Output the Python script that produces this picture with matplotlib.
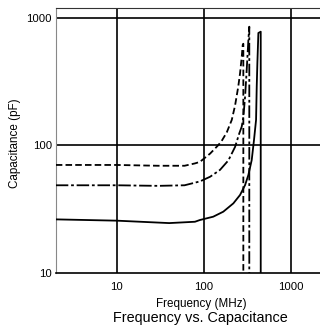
import matplotlib
matplotlib.use("Agg")
import matplotlib.pyplot as plt

plt.rcParams['font.family'] = ['Liberation Sans', 'DejaVu Sans']
plt.rcParams['lines.scale_dashes'] = False

# frequency (MHz) / capacitance (pF)
solid_f = [2, 10, 40, 79, 90, 128, 167, 218, 260, 297, 324, 354, 376, 397, 404, 411, 422, 449, 449]
solid_c = [26.2, 25.6, 24.5, 25.1, 25.9, 27.5, 30.1, 35, 40.7, 48.7, 58.4, 76.6, 110, 158, 288, 441, 759, 777, 1]

dashdot_f = [2, 10, 30, 60, 90, 118, 153, 191, 228, 255, 272, 284, 297, 310, 324, 332, 332]
dashdot_c = [48.5, 48.5, 48, 48.5, 52, 56.6, 64, 76, 97, 124, 140, 167, 240, 389, 669, 850, 1]

dashed_f = [2, 10, 30, 60, 79, 90, 118, 146, 160, 183, 209, 228, 248, 260, 272, 279, 283.6, 283.6]
dashed_c = [70, 70, 69, 69, 72, 74, 86, 100, 108, 126, 158, 205, 288, 366, 494, 611, 625, 1]

x_ticks = [10, 100, 1000]
y_ticks = [10, 100, 1000]

fig = plt.figure(figsize=(3.2, 3.29), dpi=100)
ax = fig.add_axes([0.175, 0.1711, 0.825, 0.8046])

ax.set_xscale("log")
ax.set_yscale("log")
ax.set_xlim(2.01, 2150)
ax.set_ylim(10, 1192)

for v in x_ticks:
    ax.axvline(v, color="black", lw=1.2, zorder=1)
for v in y_ticks[1:]:
    ax.axhline(v, color="black", lw=1.2, zorder=1)

ax.plot(solid_f, solid_c, color="black", lw=1.3, zorder=3)
ax.plot(dashdot_f, dashdot_c, color="black", lw=1.3, dashes=(9, 2, 2, 2), zorder=3)
ax.plot(dashed_f, dashed_c, color="black", lw=1.3, dashes=(4.7, 2.3), zorder=3)

ax.set_xticks(x_ticks)
ax.set_xticklabels([str(v) for v in x_ticks])
ax.set_yticks(y_ticks)
ax.set_yticklabels([str(v) for v in y_ticks])
ax.minorticks_off()
ax.tick_params(length=0, labelsize=8.2)
ax.tick_params(axis="x", pad=6.5)
ax.tick_params(axis="y", pad=3)

ax.spines["right"].set_visible(False)
ax.spines["left"].set_color("#888888")
ax.spines["top"].set_color("#333333")
ax.spines["bottom"].set_linewidth(1.2)

ax.set_xlabel("Frequency (MHz)", fontsize=8.4)
ax.xaxis.set_label_coords(0.549, -0.095)
ax.set_ylabel("Capacitance (pF)", fontsize=8.4)
ax.yaxis.set_label_coords(-0.133, 0.49)

fig.text(200.5 / 320, 1 - 318 / 329, "Frequency vs. Capacitance", fontsize=10.4,
         ha="center", va="center")

plt.savefig("out.png", dpi=100)
